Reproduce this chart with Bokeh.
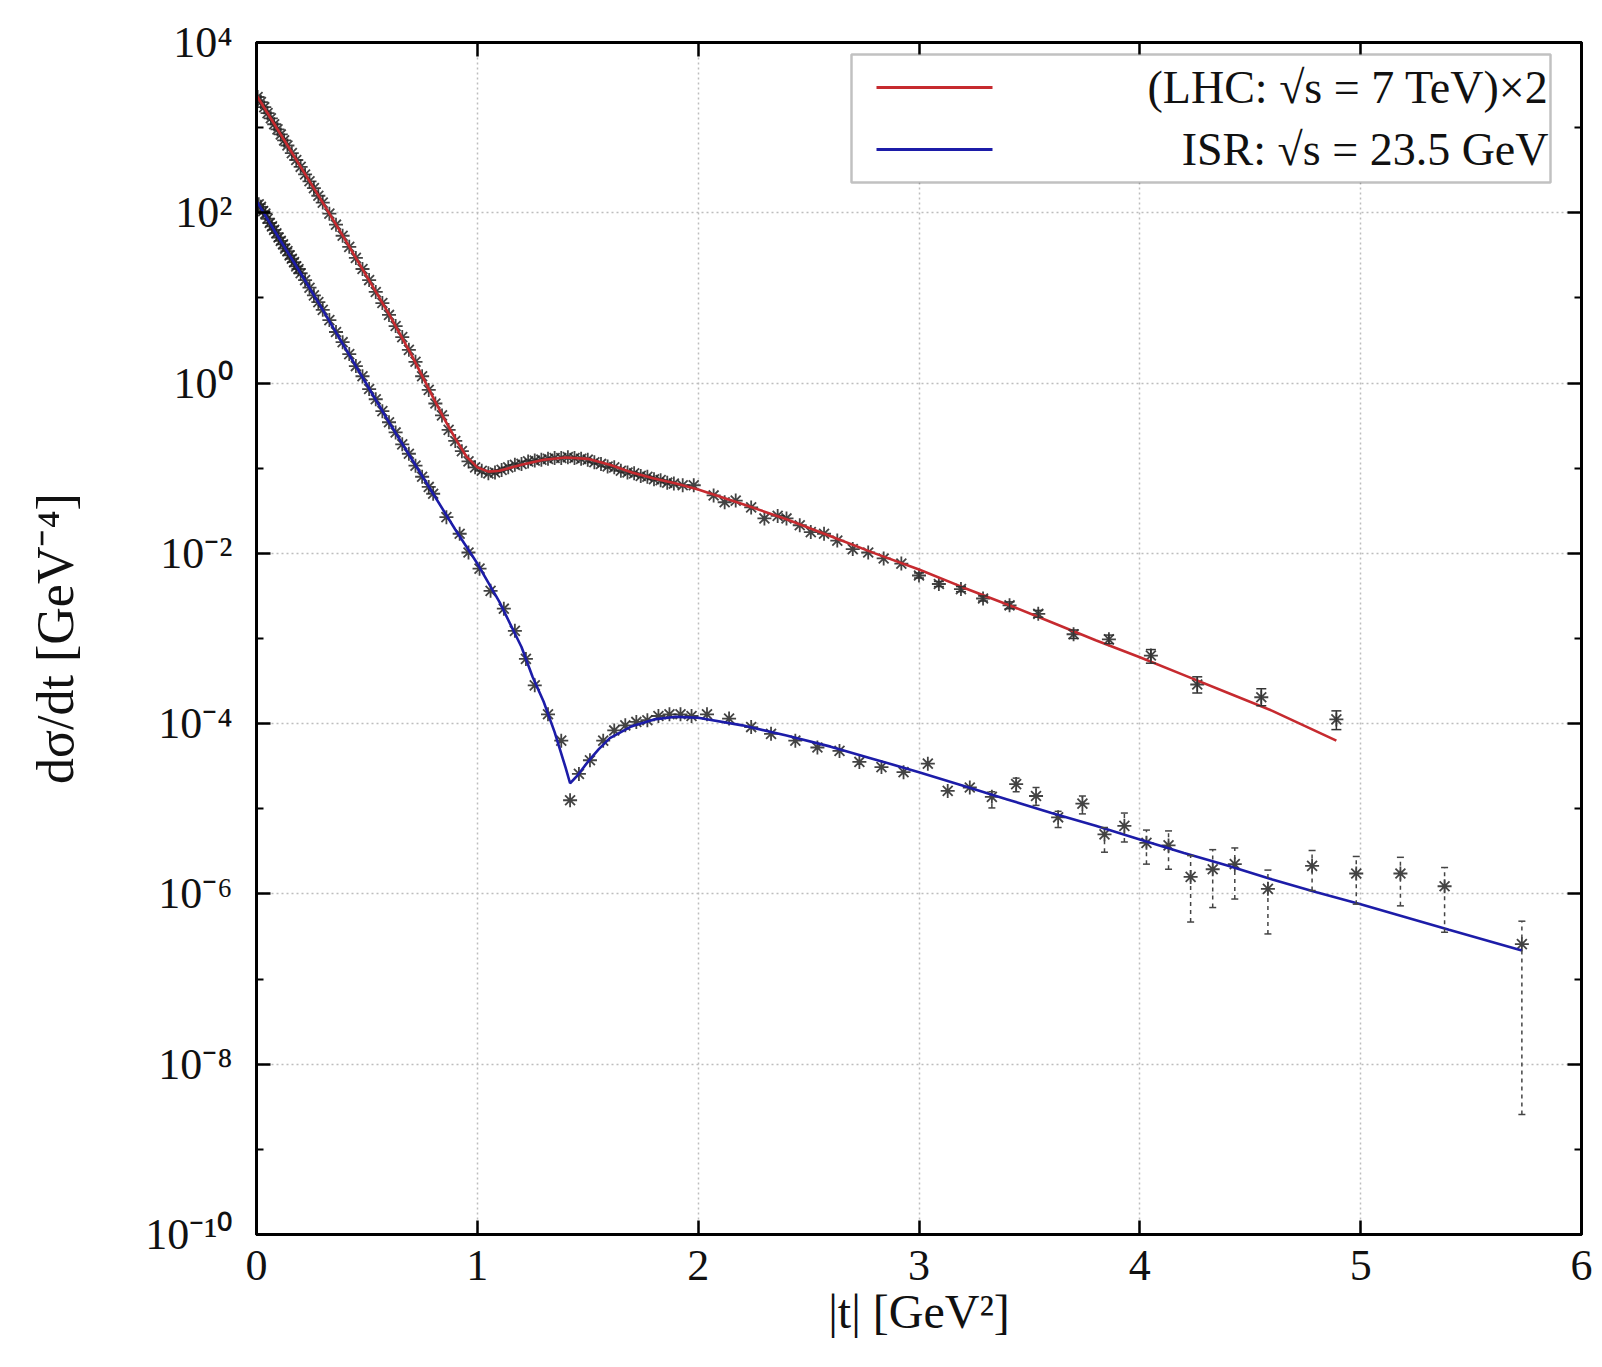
import numpy as np
from bokeh.plotting import figure
from bokeh.models import (FixedTicker, CustomJSTickFormatter, LinearAxis, LogAxis, Label,
                          BoxAnnotation, Arrow, Whisker, TeeHead, ColumnDataSource)
from bokeh.embed import file_html
from bokeh.resources import INLINE

FONT = "Liberation Serif"

# ---------------- data (log10 of dsigma/dt) ----------------
# LHC sqrt(s)=7 TeV (x2) model curve
lhc_curve_t = [0.0, 0.1, 0.2, 0.3, 0.4, 0.5, 0.6, 0.7, 0.8, 0.85, 0.9, 0.95, 1.0, 1.05, 1.1,
               1.2, 1.3, 1.4, 1.5, 1.6, 1.7, 1.8, 1.9, 2.0, 2.2, 2.4, 2.6, 2.8, 3.0, 3.2, 3.4,
               3.6, 3.8, 4.0, 4.2, 4.4, 4.6, 4.89]
lhc_curve_log10 = [3.38, 2.96, 2.54, 2.12, 1.69, 1.25, 0.81, 0.34, -0.17, -0.42, -0.65, -0.86,
                   -0.99, -1.04, -1.03, -0.96, -0.90, -0.875, -0.89, -0.96, -1.05, -1.12, -1.18,
                   -1.25, -1.42, -1.60, -1.80, -2.00, -2.19, -2.40, -2.60, -2.81, -3.02, -3.22,
                   -3.43, -3.64, -3.85, -4.20]

# LHC data points (x2)
lhc_t = [0.005, 0.02, 0.035, 0.05, 0.065, 0.08, 0.095, 0.11, 0.125, 0.14,
         0.16, 0.18, 0.20, 0.22, 0.24, 0.26, 0.28, 0.30,
         0.33, 0.36, 0.39, 0.42, 0.45, 0.48, 0.51, 0.54, 0.57, 0.60, 0.63, 0.66, 0.69, 0.72,
         0.75, 0.78, 0.81, 0.84, 0.87, 0.90, 0.93, 0.96, 0.99, 1.02, 1.05, 1.08, 1.11, 1.14,
         1.17, 1.20, 1.23, 1.26, 1.29, 1.32, 1.35, 1.38, 1.41, 1.44, 1.47, 1.50, 1.53, 1.56,
         1.59, 1.62, 1.65, 1.68, 1.71, 1.74, 1.77, 1.80, 1.83, 1.86, 1.89,
         1.93, 1.98, 2.07, 2.12, 2.17, 2.24, 2.30, 2.36, 2.40, 2.46, 2.51, 2.57, 2.63, 2.70,
         2.77, 2.84, 2.92, 3.00, 3.09, 3.19, 3.29, 3.41, 3.54, 3.70, 3.86, 4.05, 4.26, 4.55, 4.89]
lhc_log10 = [3.36, 3.30, 3.24, 3.17, 3.11, 3.04, 2.98, 2.92, 2.85, 2.79,
             2.70, 2.62, 2.54, 2.45, 2.37, 2.29, 2.20, 2.12,
             1.99, 1.86, 1.73, 1.60, 1.47, 1.34, 1.21, 1.07, 0.94, 0.80, 0.67, 0.54, 0.39, 0.25,
             0.08, -0.08, -0.24, -0.38, -0.55, -0.68, -0.80, -0.92, -0.99, -1.03, -1.06, -1.05,
             -1.02, -0.99, -0.96, -0.95, -0.92, -0.91, -0.90, -0.89, -0.88, -0.88, -0.87, -0.88,
             -0.89, -0.90, -0.93, -0.95, -0.98, -0.99, -1.03, -1.05, -1.06, -1.09, -1.10, -1.13,
             -1.14, -1.17, -1.18,
             -1.20, -1.20, -1.32, -1.40, -1.38, -1.46, -1.59, -1.56, -1.59, -1.67, -1.75, -1.77,
             -1.85, -1.95, -1.99, -2.06, -2.12, -2.26, -2.36, -2.42, -2.53, -2.61, -2.71, -2.95,
             -3.01, -3.20, -3.54, -3.69, -3.95]

# LHC error bars
lhc_err_t = [3.00, 3.09, 3.19, 3.29, 3.41, 3.54, 3.70, 3.86, 4.05, 4.26, 4.55, 4.89]
lhc_err_hi_log10 = [-2.23, -2.33, -2.39, -2.50, -2.57, -2.67, -2.90, -2.96, -3.13, -3.45, -3.59, -3.85]
lhc_err_lo_log10 = [-2.29, -2.39, -2.45, -2.56, -2.65, -2.75, -3.00, -3.06, -3.29, -3.64, -3.79, -4.07]

# ISR sqrt(s)=23.5 GeV model curve
isr_curve_t = [0.0, 0.1, 0.2, 0.3, 0.4, 0.5, 0.6, 0.7, 0.8, 0.9, 1.0, 1.1, 1.2, 1.25, 1.3, 1.35,
               1.40, 1.42, 1.45, 1.5, 1.55, 1.6, 1.7, 1.8, 1.9, 2.0, 2.2, 2.4, 2.6, 2.8, 3.0, 3.2,
               3.4, 3.6, 3.8, 4.0, 4.2, 4.4, 4.6, 4.8, 5.0, 5.2, 5.4, 5.73]
isr_curve_log10 = [2.14, 1.71, 1.29, 0.86, 0.42, -0.02, -0.46, -0.88, -1.30, -1.72, -2.12,
                   -2.57, -3.10, -3.45, -3.74, -4.10, -4.52, -4.70, -4.62, -4.45, -4.30, -4.17,
                   -4.03, -3.95, -3.92, -3.93, -4.02, -4.14, -4.27, -4.42, -4.57, -4.73, -4.89,
                   -5.05, -5.20, -5.36, -5.52, -5.67, -5.83, -5.98, -6.12, -6.27, -6.42, -6.665]

# ISR data points
isr_t = [0.01, 0.02, 0.03, 0.04, 0.05, 0.06, 0.07, 0.08, 0.09, 0.10,
         0.11, 0.12, 0.13, 0.14, 0.15, 0.16, 0.17, 0.18, 0.19, 0.20,
         0.22, 0.24, 0.26, 0.28, 0.30,
         0.33, 0.36, 0.39, 0.42, 0.45, 0.48, 0.51, 0.54, 0.57, 0.60, 0.63, 0.66, 0.69, 0.72,
         0.75, 0.78,
         0.80, 0.86, 0.92, 0.96, 1.01, 1.06, 1.12, 1.17, 1.22, 1.26, 1.32, 1.38, 1.42, 1.46,
         1.51, 1.57, 1.62, 1.67, 1.72, 1.77, 1.82, 1.87, 1.92, 1.97, 2.04, 2.14, 2.24, 2.33,
         2.44, 2.54, 2.64, 2.73, 2.83, 2.93, 3.04, 3.13, 3.23, 3.33, 3.44, 3.53, 3.63, 3.74,
         3.84, 3.93, 4.03, 4.13, 4.23, 4.33, 4.43, 4.58, 4.78, 4.98, 5.18, 5.38, 5.73]
isr_log10 = [2.10, 2.07, 2.02, 1.99, 1.93, 1.88, 1.84, 1.80, 1.76, 1.71,
             1.67, 1.63, 1.58, 1.55, 1.50, 1.46, 1.42, 1.37, 1.34, 1.29,
             1.21, 1.12, 1.03, 0.95, 0.86,
             0.74, 0.60, 0.48, 0.34, 0.20, 0.08, -0.07, -0.19, -0.33, -0.46, -0.58, -0.72, -0.83,
             -0.97, -1.10, -1.22,
             -1.30, -1.575, -1.77, -1.99, -2.18, -2.44, -2.65, -2.91, -3.24, -3.55, -3.89, -4.20,
             -4.90, -4.59, -4.43, -4.20, -4.08, -4.02, -3.98, -3.96, -3.91, -3.89, -3.89, -3.91,
             -3.89, -3.94, -4.04, -4.12, -4.20, -4.28, -4.32, -4.45, -4.51, -4.57, -4.47, -4.79,
             -4.75, -4.86, -4.71, -4.85, -5.10, -4.94, -5.30, -5.20, -5.40, -5.43, -5.80, -5.71,
             -5.65, -5.94, -5.67, -5.76, -5.76, -5.91, -6.59]

# ISR error bars
isr_err_t = [3.33, 3.44, 3.53, 3.63, 3.74, 3.84, 3.93, 4.03, 4.13, 4.23, 4.33, 4.43, 4.58,
             4.78, 4.98, 5.18, 5.38, 5.73]
isr_err_hi_log10 = [-4.80, -4.64, -4.75, -5.03, -4.85, -5.22, -5.05, -5.25, -5.26, -5.55, -5.48,
                    -5.46, -5.72, -5.49, -5.56, -5.57, -5.69, -6.32]
isr_err_lo_log10 = [-4.99, -4.80, -4.96, -5.22, -5.06, -5.51, -5.39, -5.65, -5.71, -6.33, -6.16,
                    -6.06, -6.47, -5.96, -6.12, -6.14, -6.45, -8.59]

x_ticks = [0, 1, 2, 3, 4, 5, 6]
y_ticks = [1e-10, 1e-8, 1e-6, 1e-4, 1e-2, 1e0, 1e2, 1e4]
y_minor_ticks = [1e-9, 1e-7, 1e-5, 1e-3, 1e-1, 1e1, 1e3]

legend_lhc = "(LHC: \u221as = 7 TeV)\u00d72"
legend_isr = "ISR: \u221as = 23.5 GeV"
x_label = "|t| [GeV\u00b2]"
y_label = "d\u03c3/dt [GeV\u207b\u2074]"

RED = "#c62a2f"
BLUE = "#1c1ca8"
MARK = "#222222"


def pw(a):
    return np.power(10.0, np.asarray(a, dtype=float))


# ---------------- figure ----------------
FL, FT, FR, FB = 256, 42, 21, 133
FW, FH = 1325, 1192

p = figure(frame_width=FW, frame_height=FH, x_range=(0, 6), y_range=(1e-10, 1e4),
           y_axis_type="log", output_backend="svg", toolbar_location=None,
           min_border_left=FL, min_border_right=FR, min_border_top=FT, min_border_bottom=FB,
           background_fill_color="white", border_fill_color="white")
p.outline_line_color = "black"
p.outline_line_width = 3

xt = FixedTicker(ticks=x_ticks, minor_ticks=[])
yt = FixedTicker(ticks=y_ticks, minor_ticks=y_minor_ticks)

sup_code = """
const sup = {'0':'\u2070','1':'\u00b9','2':'\u00b2','3':'\u00b3','4':'\u2074','5':'\u2075',
             '6':'\u2076','7':'\u2077','8':'\u2078','9':'\u2079','-':'\u207b'};
const e = Math.round(Math.log10(tick));
return '10' + String(e).split('').map(c => sup[c]).join('');
"""
blank = CustomJSTickFormatter(code="return '';")


def style_axis(ax):
    ax.axis_line_width = 3
    ax.axis_line_color = "black"
    ax.major_tick_in = 14
    ax.major_tick_out = 0
    ax.major_tick_line_width = 2.5
    ax.minor_tick_in = 7
    ax.minor_tick_out = 0
    ax.minor_tick_line_width = 2
    ax.major_label_text_font = FONT
    ax.major_label_text_font_size = "44px"
    ax.major_label_text_color = "#111111"


p.xaxis.ticker = xt
p.yaxis.ticker = yt
p.yaxis.formatter = CustomJSTickFormatter(code=sup_code)
for ax in p.xaxis + p.yaxis:
    style_axis(ax)
p.xaxis.major_label_standoff = 16
p.yaxis.major_label_standoff = 24

p.xaxis.axis_label = x_label
p.xaxis.axis_label_standoff = 2
p.yaxis.axis_label = y_label
p.yaxis.axis_label_standoff = 58
for ax in p.xaxis + p.yaxis:
    ax.axis_label_text_font = FONT
    ax.axis_label_text_font_style = "normal"
    ax.axis_label_text_color = "#111111"
p.xaxis.axis_label_text_font_size = "48px"
p.yaxis.axis_label_text_font_size = "52px"

top_ax = LinearAxis(ticker=FixedTicker(ticks=x_ticks, minor_ticks=[]), formatter=blank)
right_ax = LogAxis(ticker=FixedTicker(ticks=y_ticks, minor_ticks=y_minor_ticks), formatter=blank)
for ax in (top_ax, right_ax):
    style_axis(ax)
    ax.major_label_standoff = 0
p.add_layout(top_ax, "above")
p.add_layout(right_ax, "right")

p.xgrid.ticker = xt
p.ygrid.ticker = yt
for g in (p.xgrid, p.ygrid):
    g.grid_line_color = "#bdbdbd"
    g.grid_line_dash = "2 3"
    g.grid_line_width = 1.5

# ---------------- error bars ----------------
lhc_err_src = ColumnDataSource(dict(t=lhc_err_t, hi=pw(lhc_err_hi_log10), lo=pw(lhc_err_lo_log10)))
p.add_layout(Whisker(source=lhc_err_src, base="t", upper="hi", lower="lo", dimension="height",
                     line_color="#333333", line_width=1.5,
                     upper_head=TeeHead(size=10, line_color="#333333", line_width=1.5),
                     lower_head=TeeHead(size=10, line_color="#333333", line_width=1.5),
                     level="glyph"))
isr_err_src = ColumnDataSource(dict(t=isr_err_t, hi=pw(isr_err_hi_log10), lo=pw(isr_err_lo_log10)))
p.add_layout(Whisker(source=isr_err_src, base="t", upper="hi", lower="lo", dimension="height",
                     line_color="#444444", line_width=1.5, line_dash="4 4",
                     upper_head=TeeHead(size=7, line_color="#444444", line_width=1.5),
                     lower_head=TeeHead(size=7, line_color="#444444", line_width=1.5),
                     level="glyph"))

# ---------------- data markers ----------------
p.scatter(lhc_t, pw(lhc_log10), marker="asterisk", size=14, line_color=MARK, line_width=1.8,
          line_alpha=0.85)
p.scatter(isr_t, pw(isr_log10), marker="asterisk", size=14, line_color=MARK, line_width=1.8,
          line_alpha=0.85)

# ---------------- model curves ----------------
p.line(lhc_curve_t, pw(lhc_curve_log10), line_color=RED, line_width=2.6)
p.line(isr_curve_t, pw(isr_curve_log10), line_color=BLUE, line_width=2.6)

# ---------------- legend (frame-relative screen units) ----------------
p.add_layout(BoxAnnotation(left=595, right=1294, top=1180, bottom=1052,
                           left_units="screen", right_units="screen",
                           top_units="screen", bottom_units="screen",
                           fill_color="white", fill_alpha=1.0,
                           line_color="#333333", line_width=2.5))
for yy, col, txt in ((1147, RED, legend_lhc), (1085, BLUE, legend_isr)):
    p.add_layout(Arrow(x_start=620, y_start=yy, x_end=736, y_end=yy,
                       start_units="screen", end_units="screen", end=None,
                       line_color=col, line_width=3))
    p.add_layout(Label(x=1292, y=yy, x_units="screen", y_units="screen", text=txt,
                       text_align="right", text_baseline="middle", text_font=FONT,
                       text_font_size="46px", text_color="#111111"))

open("out.html", "w").write(file_html(p, INLINE))
